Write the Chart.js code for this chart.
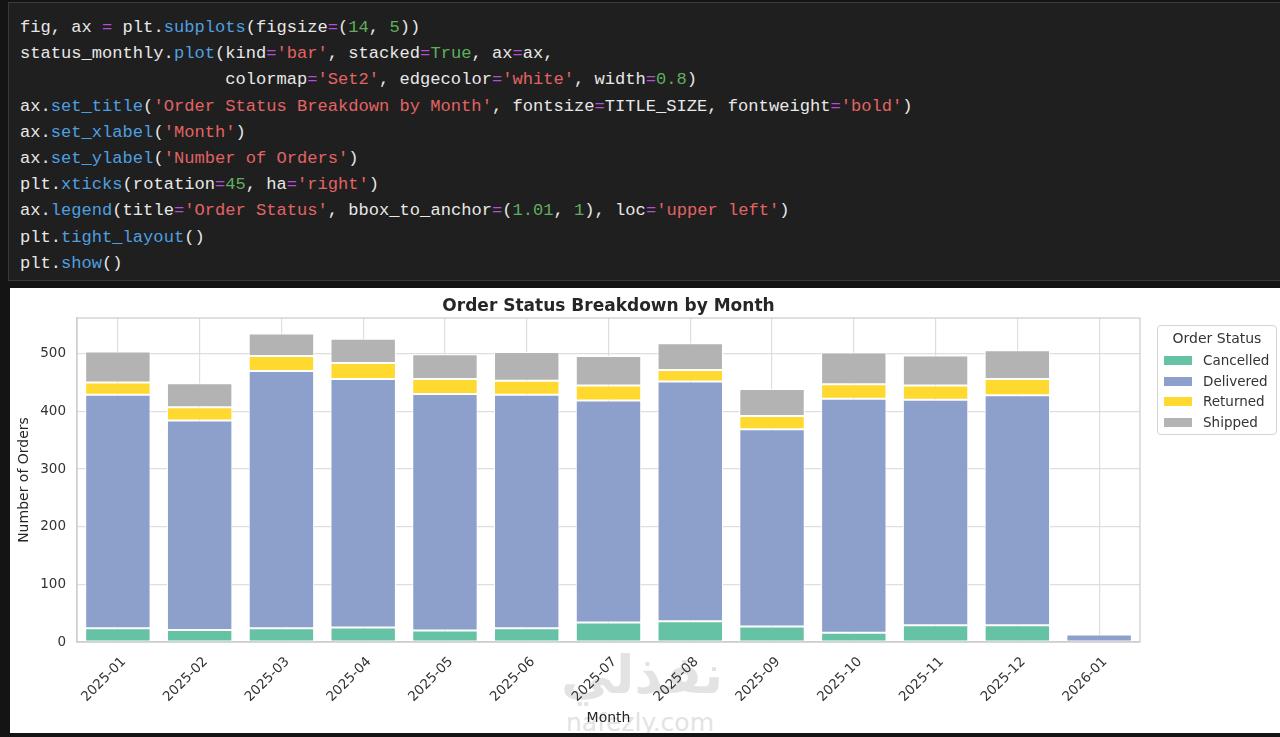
<!DOCTYPE html>
<html>
<head>
<meta charset="utf-8">
<script src="https://cdn.jsdelivr.net/npm/chart.js@4.4.1/dist/chart.umd.min.js"></script>
<style>
  html, body { margin: 0; padding: 0; background: #141414; width: 1280px; height: 737px; overflow: hidden; }
  #code {
    position: absolute; left: 8px; top: 2px; width: 1280px; height: 279px;
    background: #1f1f1f; border: 1px solid #3a3a3a; box-sizing: border-box;
  }
  #code pre {
    position: absolute; left: 11px; top: 12px; margin: 0;
    font-family: "Liberation Mono", "DejaVu Sans Mono", monospace; font-size: 17.1px; line-height: 26.2px;
    color: #e8e8e8;
  }
  .f { color: #4f9fe0; } .o { color: #b04fd8; } .n { color: #5fae5f; } .s { color: #e26464; }
  #panel { position: absolute; left: 10px; top: 288px; width: 1270px; height: 445px; background: #fff; overflow: hidden; }
  #panel canvas { position: absolute; left: 0; top: 0; }
  .wm { position: absolute; color: #e3e3e3; font-family: "DejaVu Sans", sans-serif; font-weight: bold; white-space: nowrap; }
  #legend {
    position: absolute; left: 1147px; top: 37px; width: 120px; height: 110px; box-sizing: border-box;
    border: 1px solid #d4d4d4; border-radius: 4px; background: #fff;
    font-family: "DejaVu Sans", sans-serif; font-size: 13.5px; color: #333;
  }
  #legend .t { position: absolute; left: 0; width: 100%; top: 4px; text-align: center; font-size: 14px; }
  #legend .it { position: absolute; left: 6px; height: 18px; line-height: 18px; }
  #legend .it span.b { position: absolute; left: 0; top: 5px; width: 28px; height: 9px; }
  #legend .it span.l { position: absolute; left: 39px; top: 0; }
</style>
</head>
<body>
<div id="code"><pre>fig, ax <span class="o">=</span> plt.<span class="f">subplots</span>(figsize<span class="o">=</span>(<span class="n">14</span>, <span class="n">5</span>))
status_monthly.<span class="f">plot</span>(kind<span class="o">=</span><span class="s">'bar'</span>, stacked<span class="o">=</span><span class="n">True</span>, ax<span class="o">=</span>ax,
                    colormap<span class="o">=</span><span class="s">'Set2'</span>, edgecolor<span class="o">=</span><span class="s">'white'</span>, width<span class="o">=</span><span class="n">0.8</span>)
ax.<span class="f">set_title</span>(<span class="s">'Order Status Breakdown by Month'</span>, fontsize<span class="o">=</span>TITLE_SIZE, fontweight<span class="o">=</span><span class="s">'bold'</span>)
ax.<span class="f">set_xlabel</span>(<span class="s">'Month'</span>)
ax.<span class="f">set_ylabel</span>(<span class="s">'Number of Orders'</span>)
plt.<span class="f">xticks</span>(rotation<span class="o">=</span><span class="n">45</span>, ha<span class="o">=</span><span class="s">'right'</span>)
ax.<span class="f">legend</span>(title<span class="o">=</span><span class="s">'Order Status'</span>, bbox_to_anchor<span class="o">=</span>(<span class="n">1.01</span>, <span class="n">1</span>), loc<span class="o">=</span><span class="s">'upper left'</span>)
plt.<span class="f">tight_layout</span>()
plt.<span class="f">show</span>()</pre></div>

<div id="panel">
  <div class="wm" style="left:551px; top:356px; font-size:53px;">نفذلي</div>
  <div class="wm" style="left:556px; top:420px; font-size:25px; font-weight:normal;">nafezly.com</div>
  <canvas id="statusChart" width="1270" height="445"></canvas>
  <div id="legend"><div class="t">Order Status</div></div>
</div>

<script>
// Order counts per month
const months = ["2025-01", "2025-02", "2025-03", "2025-04", "2025-05", "2025-06", "2025-07",
  "2025-08", "2025-09", "2025-10", "2025-11", "2025-12", "2026-01"];
const cancelled = [24, 21, 24, 25, 20, 24, 34, 36, 27, 16, 29, 29, 0];
const delivered = [405, 363, 446, 431, 410, 405, 385, 416, 342, 406, 391, 399, 13];
const returned = [21, 23, 26, 28, 26, 24, 26, 20, 23, 25, 25, 28, 0];
const shipped = [54, 42, 39, 42, 43, 50, 51, 46, 47, 55, 52, 50, 0];

const statusNames = ["Cancelled", "Delivered", "Returned", "Shipped"];
const statusColors = ["#66c2a5", "#8da0cb", "#ffd92f", "#b3b3b3"];
const yTicks = [0, 100, 200, 300, 400, 500];

document.addEventListener("DOMContentLoaded", function () {
  const series = [cancelled, delivered, returned, shipped];

  // legend box (matplotlib style, outside the axes)
  const legend = document.getElementById("legend");
  statusNames.forEach(function (name, i) {
    const row = document.createElement("div");
    row.className = "it";
    row.style.top = (25 + i * 20.7) + "px";
    row.innerHTML = '<span class="b" style="background:' + statusColors[i] + '"></span><span class="l">' + name + "</span>";
    legend.appendChild(row);
  });

  // top + right spines
  const frame = {
    id: "frame",
    afterDatasetsDraw(chart) {
      const a = chart.chartArea, ctx = chart.ctx;
      ctx.save();
      ctx.strokeStyle = "#cccccc";
      ctx.lineWidth = 1.2;
      ctx.strokeRect(a.left, a.top, a.right - a.left, a.bottom - a.top);
      ctx.restore();
    }
  };

  const ctx = document.getElementById("statusChart").getContext("2d");
  new Chart(ctx, {
    type: "bar",
    data: {
      labels: months,
      datasets: statusNames.map(function (name, i) {
        return {
          label: name,
          data: series[i],
          backgroundColor: statusColors[i],
          borderColor: "#ffffff",
          borderWidth: 1,
          borderSkipped: false,
          categoryPercentage: 0.8,
          barPercentage: 1.0
        };
      })
    },
    plugins: [frame],
    options: {
      responsive: false,
      animation: false,
      layout: { padding: { left: 0, right: 140, top: 0, bottom: 0 } },
      plugins: {
        legend: { display: false },
        tooltip: { enabled: false },
        title: {
          display: true,
          text: "Order Status Breakdown by Month",
          fullSize: false,
          color: "#262626",
          font: { family: "DejaVu Sans", size: 17, weight: "bold" },
          padding: { top: 8.5, bottom: 1.1 }
        }
      },
      scales: {
        x: {
          stacked: true,
          offset: true,
          afterFit: function (s) { s.height = 91; },
          grid: { offset: false, color: "#dedede", lineWidth: 1.2, drawTicks: false },
          border: { color: "#cccccc", width: 1.2 },
          ticks: {
            color: "#333333", font: { family: "DejaVu Sans", size: 13.5 },
            minRotation: 45, maxRotation: 45, autoSkip: false, padding: 12, labelOffset: 6
          },
          title: {
            display: true, text: "Month", color: "#262626",
            font: { family: "DejaVu Sans", size: 14 }, padding: { top: 0, bottom: 6.6 }
          }
        },
        y: {
          stacked: true,
          min: 0,
          max: 562,
          bounds: "data",
          afterFit: function (s) { s.width = 67; },
          afterBuildTicks: function (s) { s.ticks = yTicks.map(function (v) { return { value: v }; }); },
          grid: { color: "#dedede", lineWidth: 1.2, drawTicks: false },
          border: { color: "#cccccc", width: 1.2 },
          ticks: { color: "#333333", font: { family: "DejaVu Sans", size: 13.5 }, padding: 11 },
          title: {
            display: true, text: "Number of Orders", color: "#262626",
            font: { family: "DejaVu Sans", size: 14 }, padding: { top: 6, bottom: 0 }
          }
        }
      }
    }
  });
});
</script>
</body>
</html>
